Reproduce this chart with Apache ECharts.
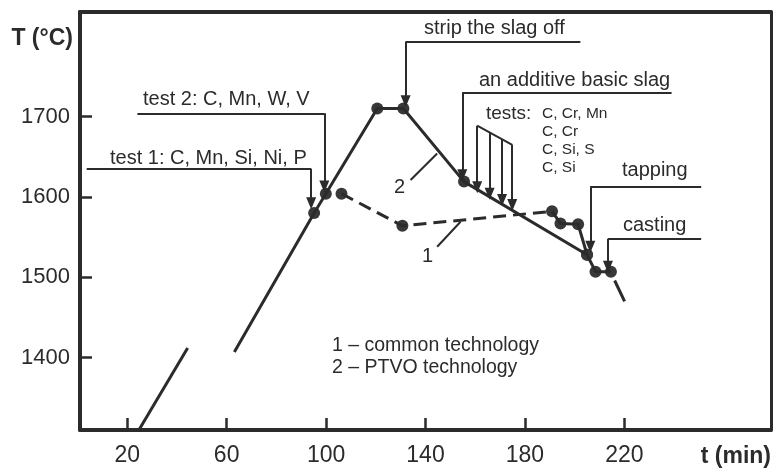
<!DOCTYPE html>
<html>
<head>
<meta charset="utf-8">
<script src="https://cdn.jsdelivr.net/npm/echarts@6/dist/echarts.min.js"></script>
<style>html,body{margin:0;background:#fff}#main{width:774px;height:470px}</style>
</head>
<body>
<div id="main"></div>
<script>
var xTicks = [20, 60, 100, 140, 180, 220];
var yTicks = [1400, 1500, 1600, 1700];

// curve 2 - PTVO technology (solid line)
var ptvoRampLow = [[24.7, 1310], [44.3, 1412]];
var ptvoRampHigh = [[63.1, 1407]];
var ptvoPoints = [[95.2, 1580], [99.9, 1604], [120.6, 1710], [131.1, 1710], [155.5, 1619],
                  [205, 1528], [208.4, 1507], [214.6, 1507]];
var ptvoTail = [[216.1, 1496], [220.1, 1470]];

// curve 1 - common technology (dashed line)
var commonPoints = [[106.2, 1604], [130.7, 1564], [190.9, 1582], [194.3, 1567], [201.4, 1566], [205, 1528]];

var FONT = '"Liberation Sans", Arial, Helvetica, sans-serif';
var INK = '#2b2b2b';

// callouts: horizontal line at y from x0 to x1, arrow drawn down at xa to tip
var callouts = [
    {x0: 3.7, x1: 94.0, y: 1635, xa: 94.0, tip: 1592},
    {x0: 24.1, x1: 99.3, y: 1704, xa: 99.3, tip: 1613},
    {x0: 132.0, x1: 202.3, y: 1793, xa: 132.0, tip: 1719},
    {x0: 154.8, x1: 239, y: 1730, xa: 154.8, tip: 1627},
    {x0: 206.3, x1: 250.9, y: 1613, xa: 206.3, tip: 1538},
    {x0: 213.4, x1: 250.9, y: 1548, xa: 213.4, tip: 1513}
];
// the four "tests" arrows hanging from a slanted bar
var testArrows = [[160.8, 1688.5, 1612], [165.8, 1680.1, 1604], [170.8, 1671.5, 1596], [174.9, 1664.8, 1590]];

function seg(a, b, arrow) {
    return [{coord: a, symbol: 'none'}, {coord: b, symbol: arrow ? 'triangle' : 'none'}];
}
var markLines = [];
callouts.forEach(function (c) {
    markLines.push(seg([c.x0, c.y], [c.x1, c.y], false));
    markLines.push(seg([c.xa, c.y], [c.xa, c.tip], true));
});
markLines.push(seg([160.8, 1688.5], [174.9, 1664.8], false));
testArrows.forEach(function (a) {
    markLines.push(seg([a[0], a[1]], [a[0], a[2]], true));
});
// leaders to the curve numbers
markLines.push(seg([134.0, 1621], [144.7, 1654], false));
markLines.push(seg([144.7, 1538], [154.1, 1569], false));

var texts = [
    ['test 1: C, Mn, Si, Ni, P', 110, 158, 20],
    ['test 2: C, Mn, W, V', 143, 99, 20],
    ['strip the slag off', 424, 28, 20],
    ['an additive basic slag', 479, 80, 20],
    ['tests:', 486, 114, 19],
    ['C, Cr, Mn', 542, 114, 15.5],
    ['C, Cr', 542, 132, 15.5],
    ['C, Si, S', 542, 150, 15.5],
    ['C, Si', 542, 168, 15.5],
    ['tapping', 622, 170, 20],
    ['casting', 623, 225, 20],
    ['2', 394, 187, 20],
    ['1', 422, 256, 20],
    ['1 \u2013 common technology', 332, 346, 19.5],
    ['2 \u2013 PTVO technology', 332, 368, 19.5]
];

var chart = echarts.init(document.getElementById('main'));

var lineBase = {type: 'line', symbol: 'none', silent: true, lineStyle: {color: INK, width: 3}};
function plain(v) { return String(v); }

option = {
    animation: false,
    grid: {left: 80, right: 2, top: 12, bottom: 40},
    xAxis: [{
        type: 'value', min: 1, max: 279,
        name: 't (min)', nameLocation: 'end', nameGap: 0, nameMoveOverlap: false,
        nameTextStyle: {fontFamily: FONT, fontSize: 23, fontWeight: 'bold', color: INK,
            align: 'right', verticalAlign: 'top', padding: [15, 0, 0, 0]},
        axisLine: {show: true, onZero: false, lineStyle: {color: INK, width: 4}},
        axisTick: {show: true, inside: true, length: 12, customValues: xTicks, lineStyle: {color: INK, width: 2.5}},
        axisLabel: {customValues: xTicks, formatter: plain, margin: 14, fontSize: 23, fontFamily: FONT, color: INK},
        splitLine: {show: false}
    }, {
        type: 'value', position: 'top', min: 1, max: 279,
        axisLine: {show: true, onZero: false, lineStyle: {color: INK, width: 4}},
        axisTick: {show: false}, axisLabel: {show: false}, splitLine: {show: false}
    }],
    yAxis: [{
        type: 'value', min: 1310, max: 1830,
        name: 'T (\u00b0C)', nameLocation: 'end', nameGap: -38, nameMoveOverlap: false,
        nameTextStyle: {fontFamily: FONT, fontSize: 23, fontWeight: 'bold', color: INK,
            align: 'right', padding: [0, 7, 0, 0]},
        axisLine: {show: true, onZero: false, lineStyle: {color: INK, width: 4}},
        axisTick: {show: true, inside: true, length: 12, customValues: yTicks, lineStyle: {color: INK, width: 2.5}},
        axisLabel: {customValues: yTicks, formatter: plain, margin: 10, fontSize: 22, fontFamily: FONT, color: INK},
        splitLine: {show: false}
    }, {
        type: 'value', position: 'right', min: 1310, max: 1830,
        axisLine: {show: true, onZero: false, lineStyle: {color: INK, width: 3}},
        axisTick: {show: false}, axisLabel: {show: false}, splitLine: {show: false}
    }],
    series: [
        Object.assign({}, lineBase, {data: ptvoRampLow}),
        Object.assign({}, lineBase, {
            data: ptvoRampHigh.concat(ptvoPoints),
            markLine: {
                silent: true, symbolSize: [10, 12], label: {show: false},
                lineStyle: {color: INK, width: 2, type: 'solid'},
                itemStyle: {color: INK},
                data: markLines
            }
        }),
        Object.assign({}, lineBase, {data: ptvoTail}),
        Object.assign({}, lineBase, {data: commonPoints.slice(0, 3), lineStyle: {color: INK, width: 3, type: [13, 7]}}),
        Object.assign({}, lineBase, {data: commonPoints.slice(2)}),
        {
            type: 'scatter', silent: true, symbolSize: 12,
            itemStyle: {color: '#383838', opacity: 1},
            data: ptvoPoints.concat(commonPoints)
        }
    ],
    graphic: texts.map(function (t) {
        return {
            type: 'text', x: t[1], y: t[2], silent: true,
            style: {text: t[0], fill: INK, font: t[3] + 'px ' + FONT, align: 'left', verticalAlign: 'middle'}
        };
    })
};
chart.setOption(option);
</script>
</body>
</html>
